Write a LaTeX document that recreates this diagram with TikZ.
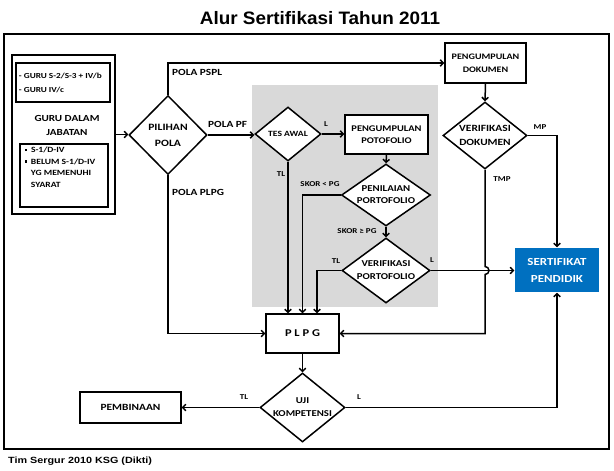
\documentclass[tikz,border=0pt]{standalone}
\usepackage{fontspec}
\setmainfont{Carlito}[FakeStretch=1.2]
\newfontfamily\titlefont{Liberation Sans}[FakeStretch=1.05]
\newfontfamily\footfont{Liberation Sans}[FakeStretch=1.2]
\usetikzlibrary{arrows.meta,shapes.geometric}
\definecolor{greybg}{RGB}{217,217,217}
\definecolor{certblue}{RGB}{0,112,192}
\newcommand\fsz[2]{\fontsize{#1}{#2}\selectfont}
\newcommand\sqbul{\makebox[6pt][l]{\raisebox{1.6pt}{\rule{2.2pt}{2.2pt}}}}
\begin{document}
\begin{tikzpicture}[x=1pt,y=-1pt,
  box/.style={draw, line width=1.5pt, fill=white, align=center, inner sep=0pt},
  dia/.style={draw, diamond, line width=1.5pt, fill=white, align=center, inner sep=0pt},
  lab/.style={inner sep=0pt, font=\bfseries\fsz{9.4}{11}},
  slab/.style={inner sep=0pt, font=\bfseries\fsz{7.5}{9}},
  conn/.style={line width=1.5pt, -{Straight Barb[length=3pt,width=6.5pt]}},
  ]
\useasboundingbox (0,0) rectangle (614,471);
% background panel and frame
\fill[greybg] (252,85) rectangle (438,307);
\draw[line width=1.5pt] (4,34) rectangle (609,449);
% title and footer
\node[font=\titlefont\bfseries\fsz{18}{20}] (title) at (320,18) {Alur Sertifikasi Tahun 2011};
\node[anchor=west, inner sep=0pt, font=\footfont\bfseries\fsz{9}{11}] (foot) at (8,461) {Tim Sergur 2010 KSG (Dikti)};
% left block
\node[box, minimum width=103pt, minimum height=159pt] (guru) at (63.5,134.5) {};
\node[box, minimum width=94pt, minimum height=39pt] (box1) at (63,82.5)
  {\parbox{88pt}{\raggedright\bfseries\fsz{7.7}{14}\mbox{- GURU S-2/S-3 + IV/b}\\\mbox{- GURU IV/c}}};
\node[font=\bfseries\fsz{9.3}{14}, align=center, inner sep=0pt] (jab) at (67,125) {GURU DALAM\\JABATAN};
\node[box, minimum width=88pt, minimum height=63pt] (box2) at (64,175.5)
  {\parbox[c][57pt][t]{78pt}{\raggedright\bfseries\fsz{8}{11.5}\sqbul S-1/D-IV\\\sqbul BELUM S-1/D-IV\\\hspace*{6pt}YG MEMENUHI\\\hspace*{6pt}SYARAT}};
% main nodes
\node[dia, minimum width=78pt, minimum height=79pt, font=\bfseries\fsz{9.7}{16}] (pilihan) at (168,135) {PILIHAN\\POLA};
\node[box, minimum width=81pt, minimum height=40pt, font=\bfseries\fsz{8.4}{13}] (pengdok) at (485.5,63) {PENGUMPULAN\\DOKUMEN};
\node[dia, minimum width=84pt, minimum height=67pt, aspect=1.25, font=\bfseries\fsz{9.5}{14}] (verdok) at (485,135.5) {VERIFIKASI\\DOKUMEN};
\node[box, draw=none, fill=certblue, text=white, minimum width=84pt, minimum height=44pt, font=\bfseries\fsz{10.8}{17}] (sert) at (557,270) {SERTIFIKAT\\PENDIDIK};
\node[dia, minimum width=66pt, minimum height=54pt, aspect=1.22, font=\bfseries\fsz{8}{10}] (tesawal) at (288,134) {TES AWAL};
\node[box, minimum width=83pt, minimum height=39pt, font=\bfseries\fsz{8.7}{12.5}] (pengport) at (386.5,134.5) {PENGUMPULAN\\POTOFOLIO};
\node[dia, minimum width=89pt, minimum height=62pt, aspect=1.43, font=\bfseries\fsz{9}{12}] (penilaian) at (386,195) {PENILAIAN\\PORTOFOLIO};
\node[dia, minimum width=88pt, minimum height=65pt, aspect=1.35, font=\bfseries\fsz{9}{13}] (verport) at (386,270.5) {VERIFIKASI\\PORTOFOLIO};
\node[box, minimum width=73pt, minimum height=39pt, font=\bfseries\fsz{10.4}{12}] (plpg) at (302.5,333.5) {P L P G};
\node[dia, minimum width=85pt, minimum height=69pt, aspect=1.23, font=\bfseries\fsz{9}{13}] (uji) at (302.5,407.5) {UJI\\KOMPETENSI};
\node[box, minimum width=101pt, minimum height=31pt, font=\bfseries\fsz{9.5}{12}] (pemb) at (130.5,407.5) {PEMBINAAN};
% connectors
\draw[conn] (guru.east) -- (guru.east -| pilihan.west);
\draw[conn] (pilihan.north) |- (pengdok.west);
\draw[conn] (pilihan.east) -- (pilihan.east -| tesawal.west);
\draw[conn] (pilihan.south) |- (plpg.west);
\draw[conn] (pengdok.south) -- (verdok.north);
\draw[conn] (verdok.east) -| (sert.north);
\coordinate (cross) at (verdok.south |- verport.east);
\draw[conn] (verdok.south) -- ([yshift=4pt]cross) arc[start angle=90, end angle=-90, radius=4pt] -- (verdok.south |- plpg.east) -- (plpg.east);
\draw[conn] (tesawal.east) -- (tesawal.east -| pengport.west);
\draw[conn] (tesawal.south) -- (tesawal.south |- plpg.north);
\draw[conn] (pengport.south) -- (penilaian.north);
\draw[conn] (penilaian.west) -| (plpg.north);
\draw[conn] (penilaian.south) -- (verport.north);
\draw[conn] (verport.west) -| ([xshift=14.5pt]plpg.north);
\draw[conn] (verport.east) -- (verport.east -| sert.west);
\draw[conn] (plpg.south) -- (uji.north);
\draw[conn] (uji.west) -- (uji.west -| pemb.east);
\draw[conn] (uji.east) -| (sert.south);
% labels
\node[lab, anchor=west] (lpspl) at (172,72) {POLA PSPL};
\node[lab, anchor=west] (lpf) at (208,124) {POLA PF};
\node[lab, anchor=west] (lplpg) at (172,192) {POLA PLPG};
\node[slab] (ltesl) at (326,124) {L};
\node[slab] (ltestl) at (281,174) {TL};
\node[slab] (lskor1) at (320,184) {SKOR < PG};
\node[slab] (lskor2) at (357,231) {SKOR ≥ PG};
\node[slab] (lvptl) at (336,261) {TL};
\node[slab] (lvpl) at (432,260) {L};
\node[slab] (lmp) at (540,127) {MP};
\node[slab] (ltmp) at (502,179) {TMP};
\node[slab] (lujitl) at (244,397) {TL};
\node[slab] (lujil) at (359,397) {L};
\end{tikzpicture}
\end{document}
